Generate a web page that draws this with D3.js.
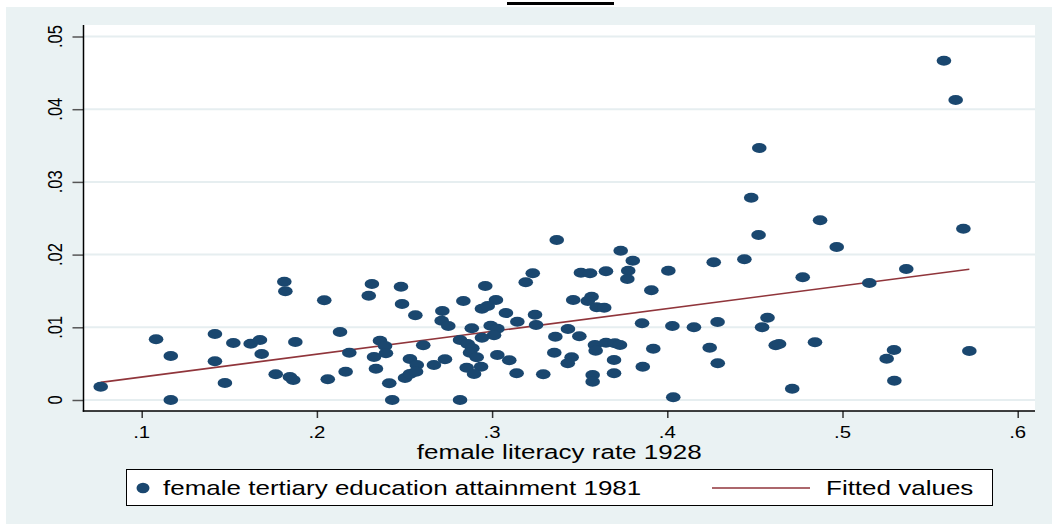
<!DOCTYPE html>
<html>
<head>
<meta charset="utf-8">
<script src="https://cdn.jsdelivr.net/npm/d3@7"></script>
<style>
  html, body { margin: 0; padding: 0; background: #ffffff; }
  svg { display: block; font-family: "Liberation Sans", Arial, sans-serif; }
</style>
</head>
<body>
<svg id="chart" width="1052" height="524"></svg>
<script>
// Female literacy rate 1928 (x) vs female tertiary education attainment 1981 (y)
const literacy1928 = [
  0.0766, 0.1082, 0.1166, 0.1166, 0.1418, 0.1418, 0.1475, 0.1523, 0.1622, 0.1675,
  0.1685, 0.1765, 0.1814, 0.1820, 0.1846, 0.1865, 0.1877, 0.2042, 0.2062, 0.2132,
  0.2164, 0.2185, 0.2296, 0.2314, 0.2326, 0.2337, 0.2360, 0.2389, 0.2394, 0.2413,
  0.2430, 0.2480, 0.2486, 0.2503, 0.2531, 0.2531, 0.2562, 0.2570, 0.2566, 0.2607,
  0.2668,
  0.3369, 0.3734, 0.3803, 0.4521, 0.4265, 0.4440, 0.3507, 0.3559, 0.3650, 0.3777,
  0.3772, 0.4006, 0.3232, 0.3192, 0.2961, 0.2836, 0.3022, 0.2942, 0.2975, 0.2716,
  0.3079, 0.3245, 0.3463, 0.3568, 0.3546, 0.3597, 0.3640, 0.3909, 0.2712, 0.2750,
  0.2884, 0.3144, 0.3251, 0.2992, 0.3030, 0.3011, 0.2942, 0.2817, 0.2861, 0.2887,
  0.2874, 0.2912, 0.3030, 0.3098, 0.2731, 0.2855, 0.2937, 0.2897, 0.3140, 0.3292,
  0.2817, 0.3361, 0.3433, 0.3498, 0.3355, 0.3454, 0.3432, 0.3587, 0.3650, 0.3701,
  0.3730, 0.3591, 0.3696, 0.3696, 0.3574, 0.3574, 0.3856, 0.4029, 0.4152, 0.4287,
  0.3920, 0.3860, 0.4242, 0.4288, 0.4034, 0.4541, 0.4572,
  0.5579, 0.5646, 0.4525, 0.4479, 0.4872, 0.4967, 0.5690, 0.4773, 0.5153, 0.5364,
  0.4619, 0.4638, 0.4843, 0.5294, 0.5252, 0.5296, 0.5724, 0.4713
];
const tertiary1981 = [
  0.00183, 0.00835, 0.00605, 0.00000, 0.00908, 0.00532, 0.00234, 0.00784, 0.00774, 0.00825,
  0.00633, 0.00354, 0.01627, 0.01495, 0.00316, 0.00275, 0.00798, 0.01371, 0.00285, 0.00935,
  0.00389, 0.00651, 0.01435, 0.01596, 0.00591, 0.00431, 0.00816, 0.00743, 0.00642, 0.00230,
  0.00000, 0.01558, 0.01320, 0.00303, 0.00358, 0.00564, 0.01165, 0.00481, 0.00389, 0.00752,
  0.00481,
  0.02201, 0.02054, 0.01916, 0.02270, 0.01895, 0.01935, 0.01751, 0.01743, 0.01770, 0.01779,
  0.01664, 0.01779, 0.01743, 0.01619, 0.01568, 0.01362, 0.01376, 0.01256, 0.01293, 0.01224,
  0.01197, 0.01173, 0.01376, 0.01421, 0.01362, 0.01275, 0.01270, 0.01509, 0.01091, 0.01018,
  0.00986, 0.01077, 0.01032, 0.01022, 0.00981, 0.00890, 0.00857, 0.00825, 0.00770, 0.00711,
  0.00651, 0.00587, 0.00619, 0.00546, 0.00560, 0.00444, 0.00458, 0.00358, 0.00367, 0.00354,
  0.00000, 0.00871, 0.00977, 0.00876, 0.00651, 0.00587, 0.00505, 0.00757, 0.00788, 0.00780,
  0.00757, 0.00678, 0.00550, 0.00367, 0.00344, 0.00252, 0.01055, 0.01018, 0.01000, 0.01073,
  0.00706, 0.00458, 0.00719, 0.00505, 0.00037, 0.01000, 0.01132,
  0.04667, 0.04127, 0.03466, 0.02783, 0.02472, 0.02105, 0.02356, 0.01688, 0.01609, 0.01802,
  0.00752, 0.00770, 0.00794, 0.00688, 0.00568, 0.00265, 0.00674, 0.00155
];

// Linear fit, drawn between the smallest and largest literacy values
const fitX = [0.0766, 0.5724];
const fitY = [0.00243, 0.01798];

const xTicks = [0.1, 0.2, 0.3, 0.4, 0.5, 0.6];
const xTickLabels = [".1", ".2", ".3", ".4", ".5", ".6"];
const yTicks = [0, 0.01, 0.02, 0.03, 0.04, 0.05];
const yTickLabels = ["0", ".01", ".02", ".03", ".04", ".05"];

const xTitle = "female literacy rate 1928";
const legendLabels = ["female tertiary education attainment 1981", "Fitted values"];

// Colours (Stata s2color style)
const bgColor = "#eaf2f3";
const gridColor = "#e6eef0";
const dotColor = "#1a476f";
const fitColor = "#90353b";

// Frame
const plotLeft = 83.5, plotRight = 1035, plotTop = 25, plotBottom = 411;
const stretchBig = 1.3;   // horizontal glyph stretch of legend texts
const stretchTick = 1.25; // horizontal glyph stretch of tick labels

const svg = d3.select("#chart");

const x = d3.scaleLinear().domain([0.1, 0.6]).range([141.7, 1017.7]);
const y = d3.scaleLinear().domain([0, 0.05]).range([400, 36.5]);

// Outer background
svg.append("rect").attr("x", 6).attr("y", 7).attr("width", 1046).attr("height", 517)
  .attr("fill", bgColor);

// Rule at the very top
svg.append("line").attr("x1", 507).attr("x2", 614).attr("y1", 3.5).attr("y2", 3.5)
  .attr("stroke", "#000").attr("stroke-width", 3);

// Plot region
svg.append("rect").attr("x", plotLeft).attr("y", plotTop)
  .attr("width", plotRight - plotLeft).attr("height", plotBottom - plotTop)
  .attr("fill", "#ffffff");

// Horizontal grid lines
svg.append("g").selectAll("line").data(yTicks).join("line")
  .attr("x1", plotLeft).attr("x2", plotRight)
  .attr("y1", d => y(d)).attr("y2", d => y(d))
  .attr("stroke", gridColor).attr("stroke-width", 2);

// Fitted line
svg.append("path")
  .datum(fitX.map((v, i) => [v, fitY[i]]))
  .attr("d", d3.line().x(d => x(d[0])).y(d => y(d[1])))
  .attr("fill", "none").attr("stroke", fitColor).attr("stroke-width", 1.6);

// Scatter points
svg.append("g").selectAll("ellipse").data(literacy1928.map((v, i) => [v, tertiary1981[i]]))
  .join("ellipse")
  .attr("cx", d => x(d[0])).attr("cy", d => y(d[1]))
  .attr("rx", 7.3).attr("ry", 5)
  .attr("fill", dotColor);

// Stretched text helper
function stext(parent, str, tx, ty, size, anchor, sx, rotate) {
  return parent.append("text")
    .attr("transform", `translate(${tx},${ty}) scale(${sx},1)` + (rotate ? ` rotate(${rotate})` : ""))
    .attr("font-size", size).attr("text-anchor", anchor).attr("fill", "#000")
    .text(str);
}

// Y axis
const yAxis = svg.append("g").attr("transform", `translate(${plotLeft},0)`)
  .call(d3.axisLeft(y).tickValues(yTicks).tickSize(11).tickFormat(""));
yAxis.select(".domain").remove();
yAxis.selectAll(".tick line").attr("stroke", "#555").attr("stroke-width", 1.5);
yTicks.forEach((t, i) => stext(svg, yTickLabels[i], 61.5, y(t), 16.5, "middle", stretchTick, -90));
svg.append("line").attr("x1", plotLeft).attr("x2", plotLeft)
  .attr("y1", plotTop).attr("y2", plotBottom + 0.75)
  .attr("stroke", "#000").attr("stroke-width", 1.5);

// X axis
const xAxis = svg.append("g").attr("transform", `translate(0,${plotBottom})`)
  .call(d3.axisBottom(x).tickValues(xTicks).tickSize(7).tickFormat(""));
xAxis.select(".domain").remove();
xAxis.selectAll(".tick line").attr("stroke", "#333").attr("stroke-width", 1.5);
xTicks.forEach((t, i) => stext(svg, xTickLabels[i], x(t), 437.6, 16.3, "middle", stretchTick));
svg.append("line").attr("x1", plotLeft - 0.75).attr("x2", plotRight)
  .attr("y1", plotBottom).attr("y2", plotBottom)
  .attr("stroke", "#000").attr("stroke-width", 1.5);

stext(svg, xTitle, (plotLeft + plotRight) / 2, 458.8, 19.5, "middle", 1.335);

// Legend
const legend = svg.append("g");
legend.append("rect").attr("x", 126.5).attr("y", 469.5).attr("width", 866).attr("height", 36)
  .attr("fill", "#ffffff").attr("stroke", "#000").attr("stroke-width", 1);
legend.append("ellipse").attr("cx", 143).attr("cy", 488).attr("rx", 6.5).attr("ry", 5.3)
  .attr("fill", dotColor);
stext(legend, legendLabels[0], 163, 495, 20, "start", stretchBig);
legend.append("line").attr("x1", 712).attr("x2", 810).attr("y1", 488).attr("y2", 488)
  .attr("stroke", fitColor).attr("stroke-width", 1.6);
stext(legend, legendLabels[1], 826, 495, 20, "start", stretchBig);
</script>
</body>
</html>
